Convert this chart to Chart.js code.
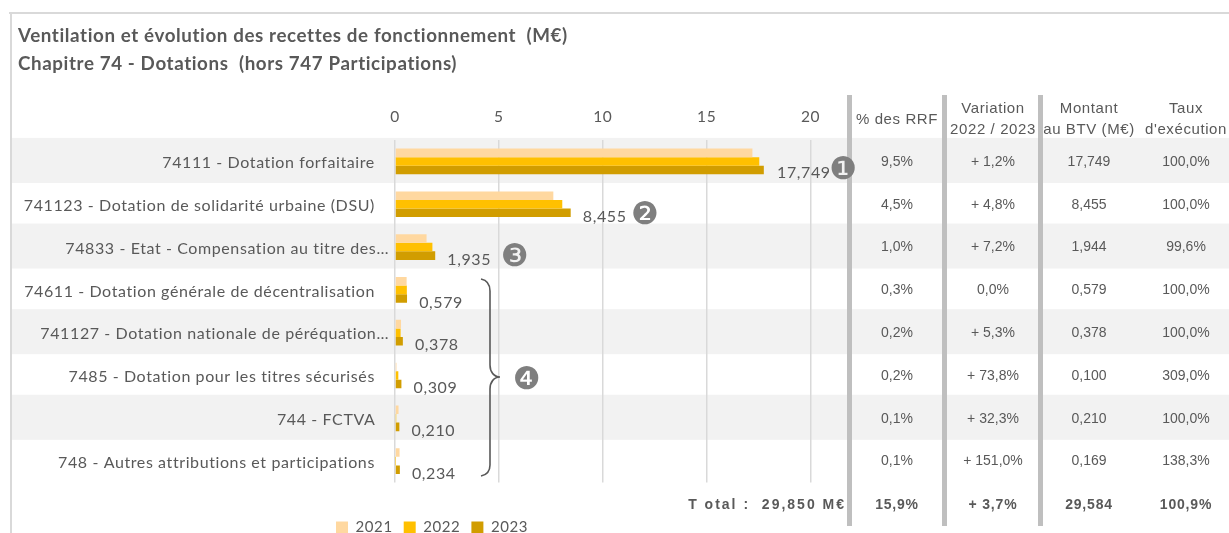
<!DOCTYPE html>
<html>
<head>
<meta charset="utf-8">
<style>
  html, body { margin: 0; padding: 0; background: #fff; }
  canvas { display: block; }
</style>
</head>
<body>
<canvas id="myChart" width="1229" height="533"></canvas>
<script src="https://cdn.jsdelivr.net/npm/chart.js@4"></script>
<script>
const categories = [
  '74111 - Dotation forfaitaire',
  '741123 - Dotation de solidarité urbaine (DSU)',
  '74833 - Etat - Compensation au titre des…',
  '74611 - Dotation générale de décentralisation',
  '741127 - Dotation nationale de péréquation…',
  '7485 - Dotation pour les titres sécurisés',
  '744 - FCTVA',
  '748 - Autres attributions et participations'
];
const values2021 = [17.2, 7.62, 1.52, 0.56, 0.29, 0.07, 0.17, 0.22];
const values2022 = [17.53, 8.05, 1.8, 0.57, 0.27, 0.16, 0.06, 0.01];
const values2023 = [17.749, 8.455, 1.935, 0.579, 0.378, 0.309, 0.21, 0.234];

const tableHeaders = [['% des RRF'], ['Variation', '2022 / 2023'], ['Montant', 'au BTV (M€)'], ['Taux', "d'exécution"]];
const pctRrf = ['9,5%', '4,5%', '1,0%', '0,3%', '0,2%', '0,2%', '0,1%', '0,1%'];
const variation = ['+ 1,2%', '+ 4,8%', '+ 7,2%', '0,0%', '+ 5,3%', '+ 73,8%', '+ 32,3%', '+ 151,0%'];
const montantBtv = ['17,749', '8,455', '1,944', '0,579', '0,378', '0,100', '0,210', '0,169'];
const tauxExec = ['100,0%', '100,0%', '99,6%', '100,0%', '100,0%', '309,0%', '100,0%', '138,3%'];
const totals = ['15,9%', '+ 3,7%', '29,584', '100,9%'];
const totalLabel = 'T otal :  29,850 M€';

const grey = '#595959';
const columnX = [897, 993, 1089, 1186];
const separatorX = [849.5, 944.5, 1040.5];

const decorations = {
  id: 'decorations',
  beforeLayout(chart) {
    // excel text is spaced wider than Lato
    chart.ctx.letterSpacing = '0.6px';
  },
  afterLayout(chart) {
    chart.legend.left = 325;
    chart.legend.top = 509;
    chart.legend.bottom = 533;
  },
  beforeDraw(chart) {
    const c = chart.ctx;
    const y = chart.scales.y;
    c.letterSpacing = '0.6px';
    c.save();
    // grey bands
    c.fillStyle = '#f2f2f2';
    categories.forEach((cat, i) => {
      if (i % 2 === 0) c.fillRect(12, y.getPixelForValue(i) - 23.5, 1217, 45);
    });
    // frame
    c.fillStyle = '#d9d9d9';
    c.fillRect(9, 12, 1220, 2);
    c.fillRect(10, 12, 2, 521);
    c.restore();
  },
  afterDraw(chart) {
    const c = chart.ctx;
    const y = chart.scales.y;
    c.save();
    // column separators
    c.fillStyle = '#bfbfbf';
    separatorX.forEach(x => c.fillRect(x - 2.5, 95, 5, 431));

    // value labels on 2023
    c.fillStyle = grey;
    c.font = '16px Lato';
    c.textAlign = 'center';
    c.textBaseline = 'middle';
    chart.getDatasetMeta(2).data.forEach((bar, i) => {
      const dx = i === 0 ? 40 : 34;
      const dy = i === 0 ? 3 : 4;
      c.fillText(values2023[i].toFixed(3).replace('.', ','), bar.x + dx, bar.y + dy);
    });

    // brace
    c.strokeStyle = grey;
    c.lineWidth = 1.6;
    c.beginPath();
    c.moveTo(481, 279);
    c.bezierCurveTo(486, 280, 490, 283, 490, 291);
    c.lineTo(490, 365);
    c.bezierCurveTo(490, 372, 494, 377, 500, 377);
    c.bezierCurveTo(494, 377, 490, 382, 490, 389);
    c.lineTo(490, 465);
    c.bezierCurveTo(490, 472, 486, 475, 481, 476);
    c.stroke();

    // numbered badges
    c.letterSpacing = '0px';
    c.fillStyle = '#7f7f7f';
    c.font = '31px "DejaVu Sans"';
    c.fillText('❶', 843.5, 170.5);
    c.fillText('❷', 645, 215.5);
    c.fillText('❸', 515, 257.5);
    c.fillText('❹', 527, 380.5);

    // table
    c.fillStyle = grey;
    c.letterSpacing = '0.6px';
    c.font = '15px "Liberation Sans"';
    tableHeaders.forEach((lines, k) => {
      if (lines.length === 1) {
        c.fillText(lines[0], columnX[k], 119.5);
      } else {
        c.fillText(lines[0], columnX[k], 109);
        c.fillText(lines[1], columnX[k], 130);
      }
    });
    c.letterSpacing = '0px';
    c.font = '14px "Liberation Sans"';
    [pctRrf, variation, montantBtv, tauxExec].forEach((col, k) => {
      col.forEach((txt, i) => c.fillText(txt, columnX[k], y.getPixelForValue(i) + 0.5));
    });
    c.letterSpacing = '0.8px';
    c.font = 'bold 14px "Liberation Sans"';
    totals.forEach((txt, k) => c.fillText(txt, columnX[k], 505));
    c.letterSpacing = '2px';
    c.textAlign = 'right';
    c.fillText(totalLabel, 846, 505);
    c.letterSpacing = '0.6px';
    c.restore();
  }
};

const ctx = document.getElementById('myChart').getContext('2d');
const myChart = new Chart(ctx, {
  type: 'bar',
  data: {
    labels: categories,
    datasets: [
      { label: '2021', data: values2021, backgroundColor: '#ffd8a0' },
      { label: '2022', data: values2022, backgroundColor: '#ffc000' },
      { label: '2023', data: values2023, backgroundColor: '#d19d00' }
    ]
  },
  plugins: [decorations],
  options: {
    indexAxis: 'y',
    responsive: false,
    animation: false,
    layout: { padding: { left: 18, top: 14, right: 381, bottom: 14.5 } },
    datasets: { bar: { categoryPercentage: 0.6, barPercentage: 1 } },
    scales: {
      x: {
        position: 'top',
        min: 0,
        max: 21.8,
        afterFit(scale) { scale.height = 30; },
        border: { display: false },
        grid: { color: '#d9d9d9', lineWidth: 1.5, drawTicks: false },
        ticks: { stepSize: 5, includeBounds: false, padding: 14, maxRotation: 0, color: grey, font: { family: 'Lato', size: 15.5 } }
      },
      y: {
        afterFit(scale) { scale.width = 377; },
        border: { display: false },
        grid: { display: false, drawTicks: false },
        ticks: {
          padding: 6,
          labelOffset: 1.5,
          autoSkip: false,
          color: grey,
          font: { family: 'Lato', size: 16 },
          callback(value) {
            const label = this.getLabelForValue(value);
            return label.endsWith('…') ? label : label + '\u00a0\u00a0\u00a0';
          }
        }
      }
    },
    plugins: {
      tooltip: { enabled: false },
      title: {
        display: true,
        align: 'start',
        text: ['Ventilation et évolution des recettes de fonctionnement  (M€)', 'Chapitre 74 - Dotations  (hors 747 Participations)'],
        color: grey,
        font: { family: 'Lato', size: 18.8, weight: 'bold', lineHeight: 1.49 },
        padding: { top: 8, bottom: 32 }
      },
      legend: {
        position: 'bottom',
        align: 'start',
        labels: { boxWidth: 12, boxHeight: 12, padding: 11, color: grey, font: { family: 'Lato', size: 15 } }
      }
    }
  }
});
</script>
</body>
</html>
